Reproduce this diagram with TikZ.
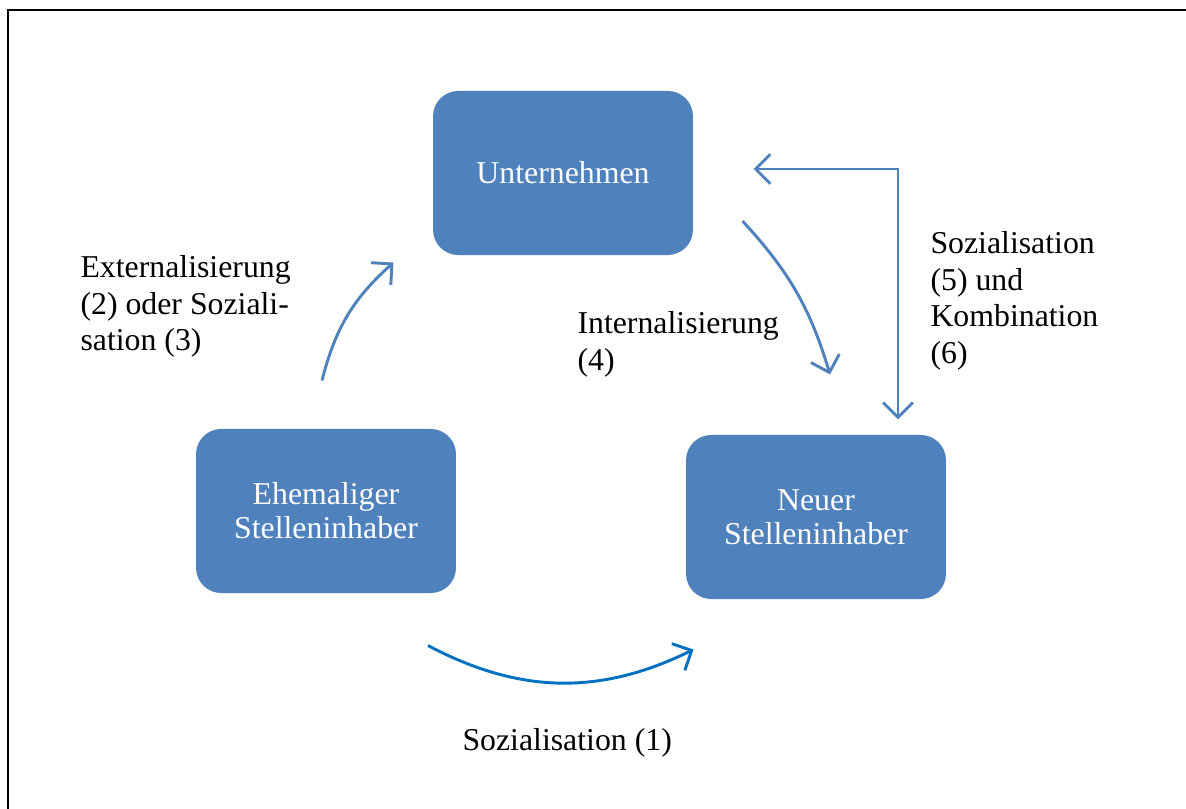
\documentclass[tikz,border=0pt]{standalone}
\usepackage{fontspec}
\setmainfont{Liberation Serif}
\usetikzlibrary{arrows.meta,positioning,calc}
\definecolor{boxblue}{HTML}{4F81BD}
\definecolor{arcblue}{HTML}{0070C0}

\begin{document}
\begin{tikzpicture}[
      x=0.3774pt, y=-0.3774pt,
      >={Straight Barb[length=5.6pt,width=11.2pt]},
      box/.style={rounded corners=9.5pt, fill=boxblue, minimum width=98.1pt,
                  minimum height=61.9pt, align=center, text=white,
                  font=\fontsize{12pt}{12.8pt}\selectfont},
      lbl/.style={anchor=north west, inner sep=0pt, align=left,
                  font=\fontsize{12pt}{13.8pt}\selectfont},
      arr/.style={->, line width=1.1pt, boxblue}
    ]
      \useasboundingbox (0,0) rectangle (1186,809);
      \draw[line width=0.9pt] (8,809) -- (8,10) -- (1186,10);

      \node[box] (unt) at (563,173) {Unternehmen};
      \node[box] (ehe) at (326,511) {Ehemaliger\\Stelleninhaber};
      \node[box] (neu) at (816,517) {Neuer\\Stelleninhaber};

      % free ends of the connectors
      \coordinate (ext-a) at ($(ehe.north)+(-4,-48)$);
      \coordinate (ext-b) at ($(unt.south west)+(-39,7)$);
      \coordinate (int-a) at ($(unt.east)+(49,48)$);
      \coordinate (int-b) at ($(neu.north)+(14,-60)$);
      \coordinate (kom-a) at ($(unt.east)+(60,-4)$);
      \coordinate (kom-b) at ($(neu.north)+(82,-15)$);
      \coordinate (soz-a) at ($(ehe.south)+(102,52)$);
      \coordinate (soz-b) at ($(neu.south west)+(8,50)$);

      \draw[arr] (ext-a) to[bend left=17] (ext-b);
      \draw[arr] (int-a) to[bend left=13] (int-b);
      \draw[arr, <->] (kom-a) -| (kom-b);
      \draw[arr, arcblue] (soz-a) to[bend right=27] (soz-b);

      \node[lbl] (ext) at (80,255) {Externalisierung\\(2) oder Soziali-\\sation (3)};
      \node[lbl] (int) at (577,311) {Internalisierung\\(4)};
      \node[lbl] (kom) at (930,231) {Sozialisation\\(5) und\\Kombination\\(6)};
      \node[lbl] (soz) at (462,728) {Sozialisation (1)};
    \end{tikzpicture}
\end{document}
